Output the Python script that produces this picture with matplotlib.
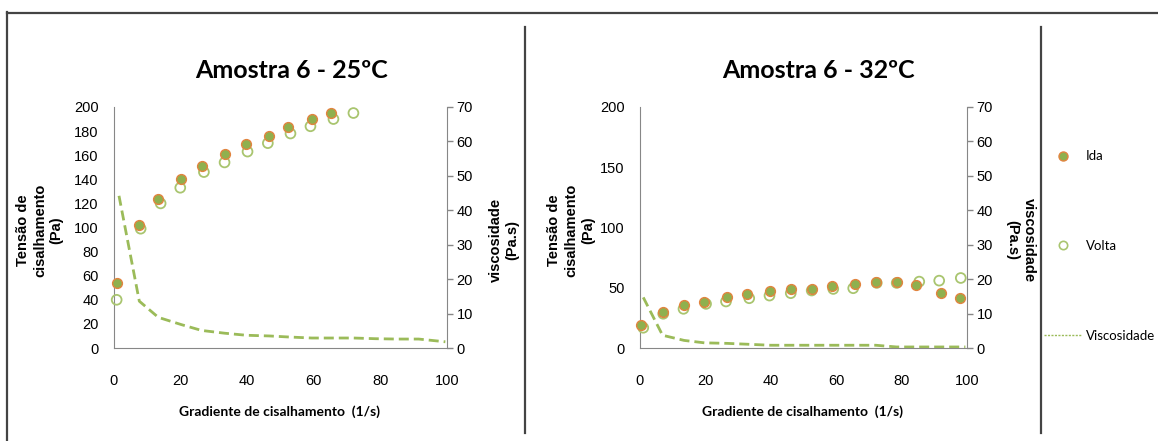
import numpy as np
import matplotlib
matplotlib.use("Agg")
import matplotlib.pyplot as plt
from matplotlib.lines import Line2D

# Amostra 6 - 25ºC
x_ida_25 = [1.0, 7.6, 13.3, 20.2, 26.3, 33.2, 39.7, 46.6, 52.4, 59.4, 65.2]
ida_25 = [54, 102, 124, 140, 151, 161, 169, 176, 183, 190, 195]
x_volta_25 = [0.8, 8.0, 14.0, 19.9, 27.0, 33.2, 40.1, 46.2, 53.0, 59.0, 65.9, 71.9]
volta_25 = [40, 99, 120, 133, 146, 154, 163, 170, 178, 184, 190, 195]
x_visc_25 = [1.5, 7.6, 13.3, 20.2, 26.3, 33.2, 39.7, 46.6, 52.4, 59.4, 65.2,
             72.0, 78.5, 85.0, 91.5, 99.5]
visc_25 = [44.2, 13.6, 8.9, 6.8, 5.1, 4.3, 3.7, 3.5, 3.2, 2.9, 2.9,
           2.9, 2.7, 2.6, 2.6, 1.8]

# Amostra 6 - 32ºC
x_ida_32 = [0.3, 6.9, 13.5, 19.7, 26.5, 32.7, 39.9, 46.1, 52.5, 58.7, 65.9,
            72.1, 78.5, 84.5, 92.0, 97.9]
ida_32 = [18.7, 29.8, 35.8, 38.0, 42.1, 44.4, 47.1, 49.0, 49.3, 51.2, 53.4,
          54.5, 55.1, 52.6, 45.5, 41.3]
x_volta_32 = [1.0, 7.1, 13.3, 20.2, 26.3, 33.4, 39.6, 46.1, 52.5, 59.1, 65.2,
              72.4, 78.5, 85.4, 91.5, 98.1]
volta_32 = [16.8, 28.4, 32.5, 36.6, 38.6, 41.3, 43.5, 45.5, 47.7, 49.0, 49.6,
            54.0, 54.0, 55.1, 55.9, 58.1]
x_visc_32 = [1.0, 6.9, 13.5, 19.7, 26.5, 32.7, 39.9, 46.1, 52.5, 58.7, 65.9,
             72.1, 78.5, 84.5, 92.0, 99.5]
visc_32 = [14.7, 3.7, 2.2, 1.5, 1.35, 1.1, 0.8, 0.8, 0.8, 0.8, 0.8,
           0.8, 0.3, 0.3, 0.3, 0.3]

x_ticks = [0, 20, 40, 60, 80, 100]
visc_ticks = [0, 10, 20, 30, 40, 50, 60, 70]

GREEN = "#8FB04E"
ORANGE = "#E2843F"
LIGHT = "#A9C56F"
LINE = "#9BBB59"
AXIS = "#878787"

NARROW = ["Lato", "DejaVu Sans"]
WIDE = ["Liberation Sans", "DejaVu Sans"]

W, H = 1158, 441
fig = plt.figure(figsize=(W / 100, H / 100), dpi=100)


def fx(px):
    return px / W


def fy(py):
    return 1 - py / H


def panel(x0, x1, title, tcx, ida_x, ida, vol_x, vol, vx, visc, yticks):
    ax = fig.add_axes([fx(x0), fy(348), fx(x1 - x0), (348 - 107) / H])
    ax.scatter(vol_x, vol, s=50, facecolor="none", edgecolor=LIGHT,
               linewidth=1.3, zorder=3, clip_on=False, label="Volta")
    ax.scatter(ida_x, ida, s=50, facecolor=GREEN, edgecolor=ORANGE,
               linewidth=1.0, zorder=4, clip_on=False, label="Ida")
    ax.set_xlim(0, 100)
    ax.set_ylim(0, 200)
    ax.set_xticks(x_ticks)
    ax.set_yticks(yticks)
    for s in ["top", "right"]:
        ax.spines[s].set_visible(False)
    for s in ["left", "bottom"]:
        ax.spines[s].set_color(AXIS)
    ax.tick_params(axis="x", length=0, pad=19, labelsize=10.5)
    ax.tick_params(axis="y", length=0, pad=11, labelsize=10.5)
    for lab in ax.get_xticklabels() + ax.get_yticklabels():
        lab.set_family(WIDE)

    ax2 = ax.twinx()
    ax2.plot(vx, visc, color=LINE, linewidth=2.0, linestyle=(0, (3.6, 1.8)),
             label="Viscosidade")
    ax2.set_ylim(0, 70)
    ax2.set_yticks(visc_ticks)
    for s in ["top", "left", "bottom"]:
        ax2.spines[s].set_visible(False)
    ax2.spines["right"].set_color(AXIS)
    ax2.tick_params(axis="y", length=4, width=1, color=AXIS, pad=3, labelsize=10.5)
    for lab in ax2.get_yticklabels():
        lab.set_family(WIDE)

    fig.text(fx(tcx), fy(70), title, ha="center", va="center",
             fontsize=18, fontweight="bold", family=NARROW)
    fig.text(fx((x0 + x1) / 2 - 1), fy(412), "Gradiente de cisalhamento  (1/s)",
             ha="center", va="center", fontsize=10, fontweight="bold", family=NARROW)
    return ax, ax2


ax_a, ax_a2 = panel(114, 447, "Amostra 6 - 25ºC", 292,
                    x_ida_25, ida_25, x_volta_25, volta_25, x_visc_25, visc_25,
                    [0, 20, 40, 60, 80, 100, 120, 140, 160, 180, 200])
ax_b, ax_b2 = panel(640, 967, "Amostra 6 - 32ºC", 818,
                    x_ida_32, ida_32, x_volta_32, volta_32, x_visc_32, visc_32,
                    [0, 50, 100, 150, 200])

# axis titles
ylab = dict(ha="center", va="center", fontsize=10.5, fontweight="bold",
            family=WIDE, multialignment="center", linespacing=1.25)
fig.text(fx(40), fy(230), "Tensão de\ncisalhamento\n(Pa)", rotation=90, **ylab)
fig.text(fx(571), fy(230), "Tensão de\ncisalhamento\n(Pa)", rotation=90, **ylab)
fig.text(fx(504), fy(240), "viscosidade\n(Pa.s)", rotation=90, **ylab)
fig.text(fx(1021), fy(240), "viscosidade\n(Pa.s)", rotation=270, **ylab)

# legend for both series and the viscosity curve
h_ida = Line2D([], [], linestyle="none", marker="o", markersize=6.5,
               markerfacecolor=GREEN, markeredgecolor=ORANGE)
h_vol = Line2D([], [], linestyle="none", marker="o", markersize=6,
               markerfacecolor="none", markeredgecolor=LIGHT, markeredgewidth=1.2)
h_visc = Line2D([], [], color=LINE, linewidth=1.0, linestyle=(0, (1.5, 1)))
leg = fig.legend([h_ida, h_vol, h_visc], ["Ida", "Volta", "Viscosidade"],
                 loc="center left", bbox_to_anchor=(fx(1044), fy(246)),
                 frameon=False, handlelength=2.9, handletextpad=0.3,
                 labelspacing=5.9, borderpad=0, borderaxespad=0,
                 prop={"family": NARROW, "size": 9.5})

# page frame
frame = dict(transform=fig.transFigure, color="#444444", linewidth=1.6)
fig.add_artist(Line2D([fx(7), 1], [fy(12.5), fy(12.5)], **frame))
fig.add_artist(Line2D([fx(7.5), fx(7.5)], [fy(12), 0], **frame))
fig.add_artist(Line2D([fx(525), fx(525)], [fy(27), fy(433)], **frame))
fig.add_artist(Line2D([fx(1041), fx(1041)], [fy(27), fy(433)], **frame))

fig.savefig("out.png", dpi=100)
